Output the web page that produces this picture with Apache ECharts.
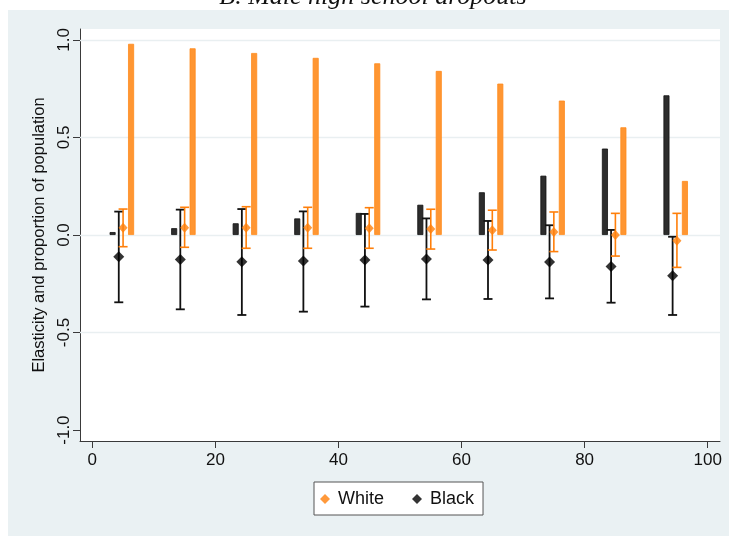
<!DOCTYPE html>
<html>
<head>
<meta charset="utf-8">
<script src="https://cdn.jsdelivr.net/npm/echarts@6/dist/echarts.min.js"></script>
<style>
  html, body { margin: 0; padding: 0; background: #ffffff; }
  #chart { width: 729px; height: 536px; }
</style>
</head>
<body>
<div id="chart"></div>
<script>
// ---- data ----
const percentile = [5, 15, 25, 35, 45, 55, 65, 75, 85, 95];
const blackShare = [0.015, 0.035, 0.060, 0.085, 0.113, 0.155, 0.219, 0.304, 0.443, 0.716];
const whiteShare = [0.980, 0.957, 0.933, 0.908, 0.880, 0.841, 0.776, 0.689, 0.552, 0.277];
const blackElast = [-0.111, -0.125, -0.137, -0.133, -0.128, -0.123, -0.128, -0.138, -0.161, -0.209];
const blackHigh  = [0.120, 0.130, 0.133, 0.121, 0.108, 0.085, 0.072, 0.050, 0.026, -0.009];
const blackLow   = [-0.345, -0.381, -0.410, -0.393, -0.367, -0.330, -0.328, -0.325, -0.347, -0.410];
const whiteElast = [0.037, 0.037, 0.037, 0.037, 0.034, 0.031, 0.024, 0.015, 0.000, -0.029];
const whiteHigh  = [0.133, 0.142, 0.145, 0.142, 0.140, 0.132, 0.127, 0.118, 0.111, 0.111];
const whiteLow   = [-0.060, -0.063, -0.068, -0.068, -0.068, -0.072, -0.077, -0.085, -0.108, -0.166];
const xTicks = [0, 20, 40, 60, 80, 100];
const yTicks = [-1, -0.5, 0, 0.5, 1];
const yGrid = [1, 0.5, 0, -0.5];
const titleText = 'B. Male high school dropouts';
const yTitle = 'Elasticity and proportion of population';
const legendNames = ['White', 'Black'];

// ---- layout offsets (dodge within each percentile group) ----
const DX_BLACK_BAR = -1.7, DX_BLACK_PT = -0.7, DX_WHITE_PT = 0, DX_WHITE_BAR = 1.3;

const ORANGE = '#ff7f0a';
const ORANGE_BAR = '#ff9632';
const BLACK = '#000000';
const FONT = '"Liberation Sans", Arial, Helvetica, sans-serif';

function errRender(color, lw, capW) {
  return function (params, api) {
    const x = api.value(0), lo = api.value(1), hi = api.value(2);
    const pHi = api.coord([x, hi]);
    const pLo = api.coord([x, lo]);
    const h = capW / 2;
    const st = { stroke: color, lineWidth: lw };
    return {
      type: 'group',
      children: [
        { type: 'line', shape: { x1: pHi[0], y1: pHi[1], x2: pLo[0], y2: pLo[1] }, style: st },
        { type: 'line', shape: { x1: pHi[0] - h, y1: pHi[1], x2: pHi[0] + h, y2: pHi[1] }, style: st },
        { type: 'line', shape: { x1: pLo[0] - h, y1: pLo[1], x2: pLo[0] + h, y2: pLo[1] }, style: st }
      ]
    };
  };
}

const chart = echarts.init(document.getElementById('chart'), null, { renderer: 'canvas' });

const option = {
  backgroundColor: '#ffffff',
  animation: false,
  graphic: [
    { type: 'rect', z: -100, shape: { x: 8, y: 10, width: 721, height: 526 }, style: { fill: '#eaf1f3' } },
    { type: 'text', z: 10, style: { text: titleText, x: 373, y: 10, textAlign: 'center', textVerticalAlign: 'bottom',
      font: 'italic 26px "Liberation Serif", "DejaVu Serif", serif', fill: '#111' } }
  ],
  grid: {
    left: 80, right: 9, top: 29, bottom: 95,
    show: true, backgroundColor: '#ffffff', borderWidth: 0
  },
  legend: {
    data: legendNames.map(n => ({ name: n, icon: 'diamond' })),
    left: 314, top: 482,
    orient: 'horizontal',
    backgroundColor: '#ffffff',
    borderColor: '#555',
    borderWidth: 1,
    borderRadius: 0,
    padding: [8, 9, 7, 6],
    itemWidth: 10, itemHeight: 10,
    itemGap: 28,
    textStyle: { fontFamily: FONT, fontSize: 18, color: '#111', padding: [0, 0, 0, 3] }
  },
  xAxis: {
    type: 'value', min: -2, max: 102,
    axisLine: { show: true, onZero: false, lineStyle: { color: '#3a3a3a', width: 1 } },
    axisTick: { show: true, length: 7, customValues: xTicks, lineStyle: { color: '#3a3a3a' } },
    axisLabel: { customValues: xTicks, margin: 11, fontFamily: FONT, fontSize: 17, color: '#111' },
    splitLine: { show: false }
  },
  yAxis: {
    type: 'value', min: -1.056, max: 1.056,
    name: yTitle, nameLocation: 'middle', nameGap: 29, nameRotate: 90,
    nameTextStyle: { fontFamily: FONT, fontSize: 16.5, color: '#111' },
    axisLine: { show: true, onZero: false, lineStyle: { color: '#3a3a3a', width: 1 } },
    axisTick: { show: true, length: 7, customValues: yTicks, lineStyle: { color: '#3a3a3a' } },
    axisLabel: { customValues: yTicks, rotate: 90, margin: 7, fontFamily: FONT, fontSize: 17, color: '#111',
      formatter: v => v.toFixed(1) },
    splitLine: { show: false }
  },
  series: [
    {
      name: 'gridlines', type: 'line', data: [], silent: true, z: 1,
      markLine: {
        silent: true, symbol: 'none', label: { show: false }, z: 1,
        lineStyle: { color: '#e9eff1', width: 1.3, type: 'solid' },
        data: yGrid.map(v => ({ yAxis: v }))
      }
    },
    {
      name: 'Black share', type: 'bar', barWidth: 6, barGap: '-100%', z: 2,
      itemStyle: { color: '#2d2d2d', borderColor: '#111', borderWidth: 0.8 },
      data: percentile.map((p, i) => [p + DX_BLACK_BAR, blackShare[i]])
    },
    {
      name: 'White share', type: 'bar', barWidth: 6, barGap: '-100%', z: 2,
      itemStyle: { color: ORANGE_BAR, borderColor: '#ff8a1c', borderWidth: 0.8 },
      data: percentile.map((p, i) => [p + DX_WHITE_BAR, whiteShare[i]])
    },
    {
      name: 'Black CI', type: 'custom', z: 3, silent: true,
      renderItem: errRender('#111', 1.8, 9),
      encode: { x: 0, y: [1, 2] },
      data: percentile.map((p, i) => [p + DX_BLACK_PT, blackLow[i], blackHigh[i]])
    },
    {
      name: 'White CI', type: 'custom', z: 3, silent: true,
      renderItem: errRender(ORANGE, 1.6, 9),
      encode: { x: 0, y: [1, 2] },
      data: percentile.map((p, i) => [p + DX_WHITE_PT, whiteLow[i], whiteHigh[i]])
    },
    {
      name: 'Black', type: 'scatter', symbol: 'diamond', symbolSize: [11, 11], z: 4,
      itemStyle: { color: BLACK },
      data: percentile.map((p, i) => [p + DX_BLACK_PT, blackElast[i]])
    },
    {
      name: 'White', type: 'scatter', symbol: 'diamond', symbolSize: [9, 10], z: 4,
      itemStyle: { color: ORANGE },
      data: percentile.map((p, i) => [p + DX_WHITE_PT, whiteElast[i]])
    }
  ]
};

chart.setOption(option);
</script>
</body>
</html>
